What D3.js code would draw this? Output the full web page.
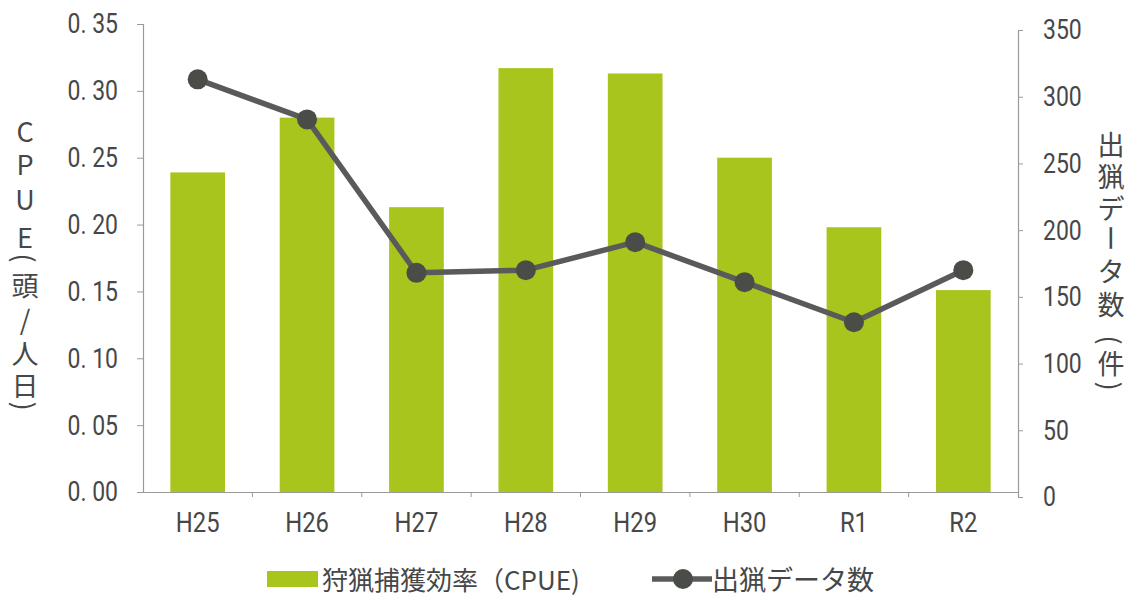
<!DOCTYPE html>
<html>
<head>
<meta charset="utf-8">
<script src="https://cdn.jsdelivr.net/npm/d3@7"></script>
<style>
  html, body { margin: 0; padding: 0; background: #fff; }
  svg { display: block; }
</style>
</head>
<body>
<svg id="chart" width="1134" height="597"></svg>
<script>
const categories = ["H25", "H26", "H27", "H28", "H29", "H30", "R1", "R2"];
const cpue = [0.239, 0.280, 0.213, 0.317, 0.313, 0.250, 0.198, 0.151];
const trips = [313, 283, 168, 170, 191, 161, 131, 170];
const leftTickValues = [0, 0.05, 0.10, 0.15, 0.20, 0.25, 0.30, 0.35];
const leftTickLabels = ["0. 00", "0. 05", "0. 10", "0. 15", "0. 20", "0. 25", "0. 30", "0. 35"];
const rightTickValues = [0, 50, 100, 150, 200, 250, 300, 350];
const rightTickLabels = ["0", "50", "100", "150", "200", "250", "300", "350"];
const leftTitle = ["C", "P", "U", "E", "(", "頭", "/", "人", "日", ")"];
const rightTitle = ["出", "猟", "デ", "ー", "タ", "数", "(", "件", ")"];
const legendBar = "狩猟捕獲効率（CPUE)";
const legendLine = "出猟データ数";

const svg = d3.select("#chart");
const numFont = "'Roboto', 'Noto Sans', sans-serif";
const cjkFont = "'Noto Sans CJK JP', 'Noto Sans', sans-serif";
const textColor = "#474747";
const axisColor = "#9a9a9a";
const barColor = "#a8c51e";
const lineColor = "#5a5a5a";
const dotColor = "#4a4c47";

const x0 = 143, x1 = 1018;
const x = d3.scaleBand().domain(categories).range([x0, x1]).paddingInner(0.5).paddingOuter(0.25);
const xEdge = d3.scaleBand().domain(categories).range([x0, x1]).padding(0);
const yL = d3.scaleLinear().domain([0, 0.35]).range([492, 24]);
const yR = d3.scaleLinear().domain([0, 350]).range([497, 30]);

function condense(sel, f) {
  sel.each(function () {
    const w = this.getComputedTextLength();
    d3.select(this).attr("textLength", w * f).attr("lengthAdjust", "spacingAndGlyphs");
  });
}

// Bars
svg.append("g").selectAll("rect").data(categories).join("rect")
  .attr("x", d => x(d))
  .attr("width", x.bandwidth())
  .attr("y", (d, i) => yL(cpue[i]))
  .attr("height", (d, i) => yL(0) - yL(cpue[i]))
  .attr("fill", barColor);

// Left axis
const axL = d3.axisLeft(yL).tickValues(leftTickValues)
  .tickFormat((d, i) => leftTickLabels[i]).tickSize(6).tickPadding(19);
const gL = svg.append("g").attr("transform", `translate(${x0},0)`).call(axL);
gL.select(".domain").attr("stroke", axisColor).attr("stroke-width", 1.2);
gL.selectAll(".tick line").attr("stroke", axisColor);
gL.selectAll(".tick text").attr("fill", textColor).attr("font-family", numFont)
  .attr("font-size", 28).call(condense, 0.82);

// Right axis
const axR = d3.axisRight(yR).tickValues(rightTickValues)
  .tickFormat((d, i) => rightTickLabels[i]).tickSize(5).tickPadding(20);
const gR = svg.append("g").attr("transform", `translate(${x1},0)`).call(axR);
gR.select(".domain").attr("stroke", axisColor).attr("stroke-width", 1.2);
gR.selectAll(".tick line").attr("stroke", axisColor);
gR.selectAll(".tick text").attr("fill", textColor).attr("font-family", numFont)
  .attr("font-size", 28).call(condense, 0.82);

// Bottom axis
const axB = d3.axisBottom(xEdge).tickSize(0).tickPadding(20);
const gB = svg.append("g").attr("transform", `translate(0,${yL(0)})`).call(axB);
gB.select(".domain").attr("stroke", axisColor).attr("stroke-width", 1.2);
gB.selectAll(".tick text").attr("fill", textColor).attr("font-family", numFont)
  .attr("font-size", 28).call(condense, 0.85);
// boundary ticks
svg.append("g").selectAll("line").data(categories.slice(1)).join("line")
  .attr("x1", d => xEdge(d)).attr("x2", d => xEdge(d))
  .attr("y1", yL(0)).attr("y2", yL(0) + 5)
  .attr("stroke", axisColor);

// Line series
const line = d3.line()
  .x((d, i) => x(categories[i]) + x.bandwidth() / 2)
  .y(d => yR(d));
svg.append("path").datum(trips)
  .attr("d", line)
  .attr("fill", "none")
  .attr("stroke", lineColor)
  .attr("stroke-width", 5.5)
  .attr("stroke-linejoin", "round");
svg.append("g").selectAll("circle").data(trips).join("circle")
  .attr("cx", (d, i) => x(categories[i]) + x.bandwidth() / 2)
  .attr("cy", d => yR(d))
  .attr("r", 10)
  .attr("fill", dotColor);

// Axis titles (vertical stacked)
function vtitle(chars, cx, ys) {
  svg.append("g").selectAll("text").data(chars).join("text")
    .attr("x", cx).attr("y", (d, i) => ys[i])
    .attr("text-anchor", "middle").attr("dominant-baseline", "central")
    .attr("font-family", cjkFont).attr("font-size", 27).attr("fill", textColor)
    .attr("transform", (d, i) => (d === "ー" || d === "(" || d === ")") ? `rotate(90,${cx},${ys[i]})` : null)
    .text(d => d);
}
vtitle(leftTitle, 25, [130, 163, 198, 236, 258, 284, 318, 352, 384, 406]);
vtitle(rightTitle, 1111, [143, 175, 207, 238, 270, 303, 340, 362, 386]);

// Legend
const lg = svg.append("g");
lg.append("rect").attr("x", 267).attr("y", 571).attr("width", 51).attr("height", 16).attr("fill", barColor);
lg.append("text").attr("x", 322).attr("y", 578).attr("dominant-baseline", "central")
  .attr("font-family", cjkFont).attr("font-size", 26).attr("fill", textColor)
  .text(legendBar);
lg.append("line").attr("x1", 652).attr("x2", 712).attr("y1", 579).attr("y2", 579)
  .attr("stroke", lineColor).attr("stroke-width", 5.5);
lg.append("circle").attr("cx", 683).attr("cy", 579).attr("r", 10).attr("fill", dotColor);
lg.append("text").attr("x", 712).attr("y", 578).attr("dominant-baseline", "central")
  .attr("font-family", cjkFont).attr("font-size", 27).attr("fill", textColor)
  .text(legendLine);
</script>
</body>
</html>
